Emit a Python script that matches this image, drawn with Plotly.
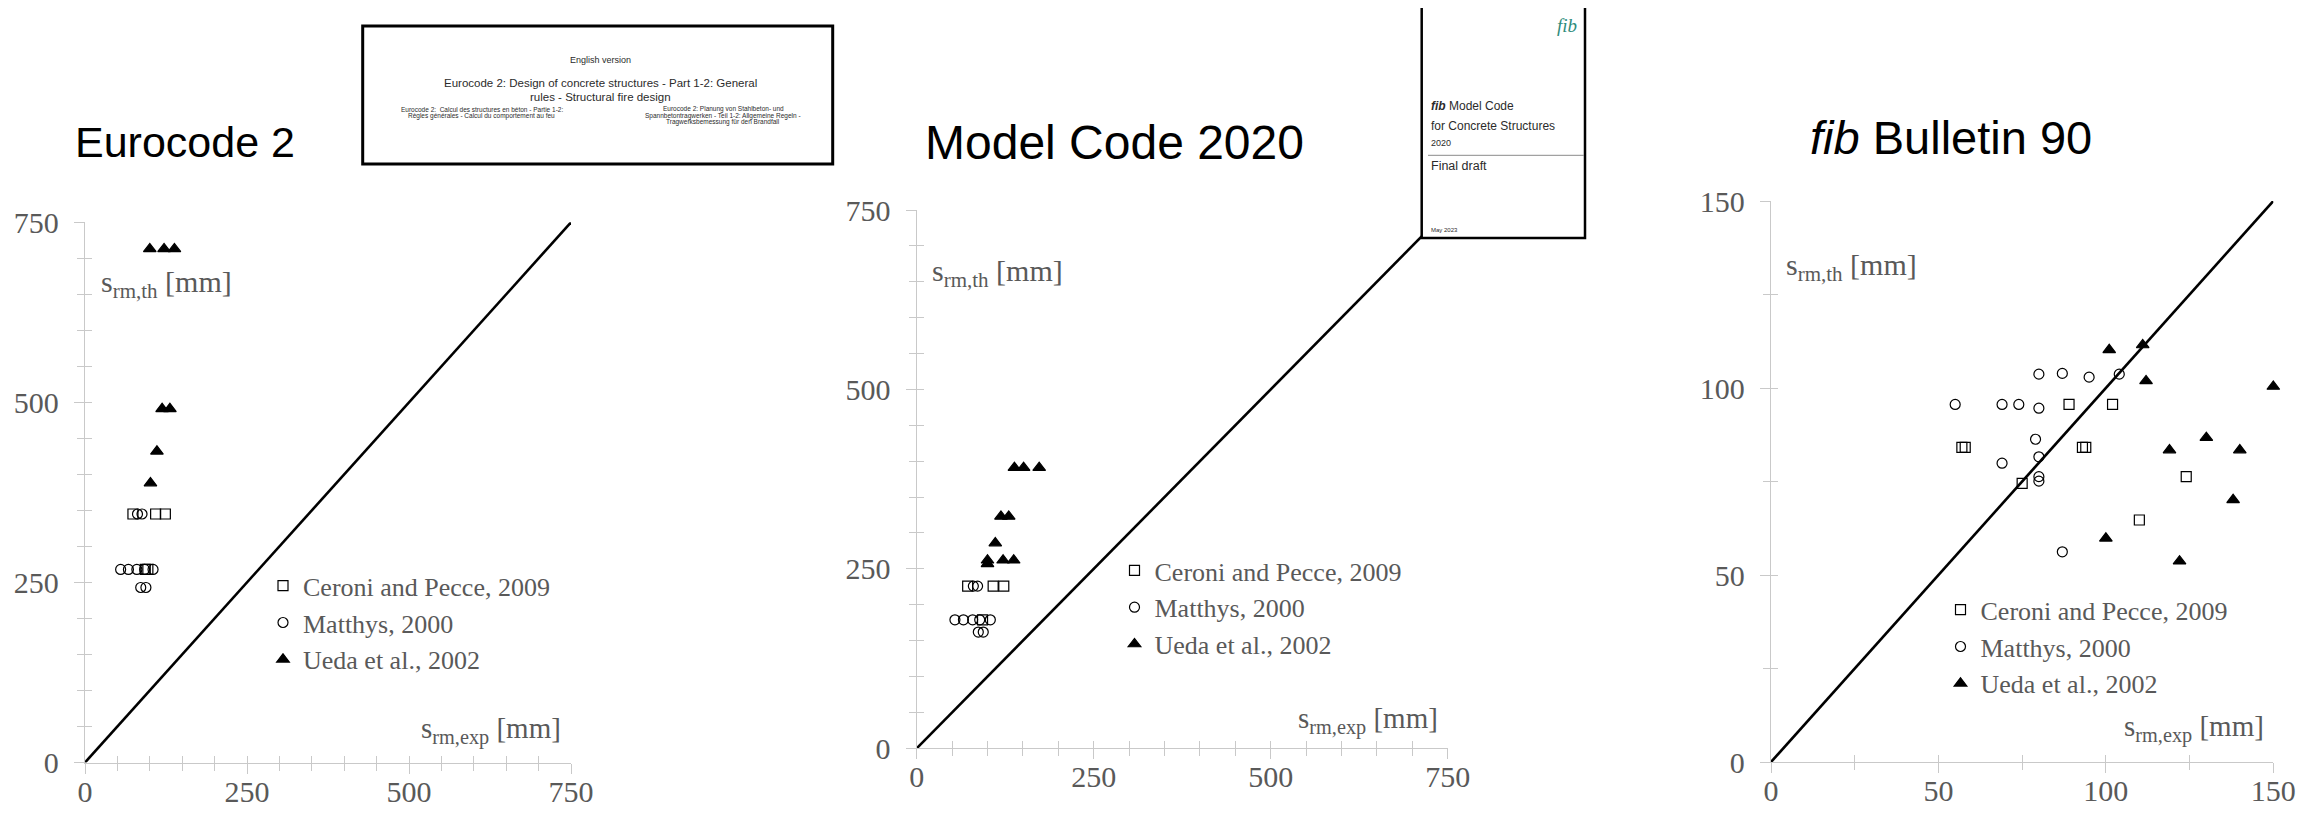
import plotly.graph_objects as go

W, H = 2315, 816          # browser window
OFF = 8                   # default page body margin
FW, FH = W - 2 * OFF, H - 2 * OFF   # figure size that fits the window

# ---------------- data ----------------
series_names = ["Ceroni and Pecce, 2009", "Matthys, 2000", "Ueda et al., 2002"]

# Eurocode 2
ec2_ceroni_x = [74, 109, 124, 93, 97]
ec2_ceroni_y = [345, 345, 345, 268, 268]
ec2_matthys_x = [81, 88, 55, 67, 80, 92, 105, 86, 94]
ec2_matthys_y = [345, 345, 268, 268, 268, 268, 268, 243, 243]
ec2_ueda_x = [100, 122, 138, 119, 131, 111, 101]
ec2_ueda_y = [713, 713, 713, 491, 491, 432, 388]

# Model Code 2020
mc_ceroni_x = [72, 108, 123, 93]
mc_ceroni_y = [226, 226, 226, 179]
mc_matthys_x = [80, 86, 54, 66, 79, 89, 104, 87, 94]
mc_matthys_y = [226, 226, 179, 179, 179, 179, 179, 162, 162]
mc_ueda_x = [138, 151, 173, 119, 130, 111, 100, 122, 137, 100]
mc_ueda_y = [391, 391, 391, 323, 323, 286, 262, 262, 262, 257]

# fib Bulletin 90
fib_ceroni_x = [57, 58, 89, 102, 93, 94, 75, 124, 110]
fib_ceroni_y = [84.1, 84.1, 95.6, 95.6, 84.1, 84.1, 74.5, 76.3, 64.7]
fib_matthys_x = [55, 69, 74, 80, 80, 87, 95, 104, 79, 80, 69, 80, 80, 87]
fib_matthys_y = [95.6, 95.6, 95.6, 94.6, 103.7, 103.9, 102.9, 103.7, 86.3, 81.6, 79.9, 76.3, 75.1, 56.2]
fib_ueda_x = [101, 111, 112, 119, 130, 140, 138, 100, 122, 150]
fib_ueda_y = [110.2, 111.5, 101.9, 83.4, 86.7, 83.4, 70.1, 59.8, 53.7, 100.4]

# reference line y = x (end values per panel)
diag_ec2 = [0, 750]
diag_mc = [0, 750]
diag_fib = [0, 150]

# axis ticks
ticks_750 = [0, 250, 500, 750]
ticks_150 = [0, 50, 100, 150]
minor_750 = 50
minor_150 = 25

panel_titles = ["Eurocode 2", "Model Code 2020", "<i>fib</i> Bulletin 90"]

# ---------------- helpers ----------------
def px(x):
    return (x - OFF) / FW


def py(y):
    return 1 - (y - OFF) / FH


AX_GRAY = "#c9c9c9"
TXT_GRAY = "#595959"
SERIF = "Liberation Serif"
SANS = "Liberation Sans"

panels = [
    dict(x0=85, x1=571, y0=222.3, y1=762.5, rng=750, ticks=ticks_750, minor=minor_750,
         data=[(ec2_ceroni_x, ec2_ceroni_y), (ec2_matthys_x, ec2_matthys_y), (ec2_ueda_x, ec2_ueda_y)],
         diag=diag_ec2, leg=(303, 589.3), th=(98.5, 284), ex=(563, 730.7),
         title=(73, 142), tsize=43),
    dict(x0=916.7, x1=1447.7, y0=210, y1=748.3, rng=750, ticks=ticks_750, minor=minor_750,
         data=[(mc_ceroni_x, mc_ceroni_y), (mc_matthys_x, mc_matthys_y), (mc_ueda_x, mc_ueda_y)],
         diag=diag_mc, leg=(1154.5, 574), th=(930, 273.3), ex=(1440, 720),
         title=(923, 142), tsize=48),
    dict(x0=1771, x1=2273.3, y0=201, y1=762, rng=150, ticks=ticks_150, minor=minor_150,
         data=[(fib_ceroni_x, fib_ceroni_y), (fib_matthys_x, fib_matthys_y), (fib_ueda_x, fib_ueda_y)],
         diag=diag_fib, leg=(1980.5, 613.3), th=(1783.5, 266.7), ex=(2266, 728.3),
         title=(1808, 138), tsize=47),
]

symbols = ["square-open", "circle-open", "triangle-up"]
sizes = [10, 10, 11]

fig = go.Figure()
layout = dict(
    width=FW, height=FH,
    margin=dict(l=0, r=0, t=0, b=0, pad=0, autoexpand=False),
    paper_bgcolor="white", plot_bgcolor="white",
    showlegend=True, annotations=[], shapes=[],
)

for i, p in enumerate(panels):
    n = i + 1
    sfx = "" if n == 1 else str(n)
    ov = str(n + 3)
    legname = "legend" if n == 1 else f"legend{n}"

    # diagonal reference line
    fig.add_trace(go.Scatter(x=p["diag"], y=p["diag"], mode="lines",
                             line=dict(color="black", width=2.6),
                             xaxis="x" + sfx, yaxis="y" + sfx,
                             showlegend=False, hoverinfo="skip"))
    # data series
    for (xs, ys), name, sym, sz in zip(p["data"], series_names, symbols, sizes):
        fig.add_trace(go.Scatter(
            x=xs, y=ys, mode="markers", name=name,
            marker=dict(symbol=sym, size=sz, color="black",
                        line=dict(color="black", width=1.2)),
            xaxis="x" + sfx, yaxis="y" + sfx, legend=legname,
            cliponaxis=False))
    # empty trace for overlay axes (inside half of crossing ticks)
    fig.add_trace(go.Scatter(x=[None], y=[None], xaxis="x" + ov, yaxis="y" + ov,
                             showlegend=False, hoverinfo="skip"))

    tickfont = dict(family=SERIF, size=30, color=TXT_GRAY)
    common = dict(range=[0, p["rng"]], showgrid=False, zeroline=False, automargin=False,
                  showline=True, linecolor=AX_GRAY, linewidth=1.3,
                  tickvals=p["ticks"], ticks="outside", ticklen=10,
                  tickcolor=AX_GRAY, tickwidth=1.3, tickfont=tickfont,
                  minor=dict(dtick=p["minor"], tick0=0, ticks="outside", ticklen=7,
                             tickcolor=AX_GRAY, tickwidth=1.3, showgrid=False),
                  fixedrange=True)
    layout["xaxis" + sfx] = dict(common, domain=[px(p["x0"]), px(p["x1"])],
                                 anchor="y" + sfx, ticklabelstandoff=-8)
    layout["yaxis" + sfx] = dict(common, domain=[py(p["y1"]), py(p["y0"])],
                                 anchor="x" + sfx, ticklabelstandoff=9)
    inside = dict(range=[0, p["rng"]], showgrid=False, zeroline=False, showline=False,
                  automargin=False, tick0=0, dtick=p["minor"], ticks="inside", ticklen=7,
                  tickcolor=AX_GRAY, tickwidth=1.3, showticklabels=False, fixedrange=True)
    layout["xaxis" + ov] = dict(inside, overlaying="x" + sfx, anchor="y" + ov)
    layout["yaxis" + ov] = dict(inside, overlaying="y" + sfx, anchor="x" + ov)

    # legend
    layout[legname] = dict(x=px(p["leg"][0] - 40), y=py(p["leg"][1] - 27),
                           xanchor="left", yanchor="top",
                           bgcolor="rgba(0,0,0,0)", borderwidth=0,
                           font=dict(family=SERIF, size=26, color=TXT_GRAY),
                           tracegroupgap=0)

    # axis titles
    layout["annotations"].append(dict(
        text="s<sub>rm,th</sub> [mm]", xref="paper", yref="paper",
        x=px(p["th"][0]), y=py(p["th"][1]), xanchor="left", yanchor="middle",
        showarrow=False, font=dict(family=SERIF, size=30, color=TXT_GRAY)))
    layout["annotations"].append(dict(
        text="s<sub>rm,exp</sub> [mm]", xref="paper", yref="paper",
        x=px(p["ex"][0]), y=py(p["ex"][1]), xanchor="right", yanchor="middle",
        showarrow=False, font=dict(family=SERIF, size=29, color=TXT_GRAY)))
    # panel title
    layout["annotations"].append(dict(
        text=panel_titles[i], xref="paper", yref="paper",
        x=px(p["title"][0]), y=py(p["title"][1]), xanchor="left", yanchor="middle",
        showarrow=False, font=dict(family=SANS, size=p["tsize"], color="black")))

# ---------------- document thumbnails ----------------
DOC = "#2b2b2b"
layout["shapes"].append(dict(type="rect", xref="paper", yref="paper",
                             x0=px(362.7), x1=px(832.7), y0=py(164), y1=py(26),
                             line=dict(color="black", width=3), fillcolor="white", layer="above"))


def doc_text(text, x, y, size, anchor="center", color=DOC, family=SANS):
    layout["annotations"].append(dict(
        text=text, xref="paper", yref="paper", x=px(x), y=py(y),
        xanchor=anchor, yanchor="middle", showarrow=False,
        font=dict(family=family, size=size, color=color)))


doc_text("English version", 600, 60, 9)
doc_text("Eurocode 2: Design of concrete structures - Part 1-2: General", 600, 82.7, 11.5)
doc_text("rules - Structural fire design", 600, 97.3, 11.5)
doc_text("Eurocode 2:  Calcul des structures en béton - Partie 1-2:", 481.7, 109.3, 6.5)
doc_text("Règles générales - Calcul du comportement au feu", 481.7, 115.5, 6.5)
doc_text("Eurocode 2: Planung von Stahlbeton- und", 723, 109.3, 6.5)
doc_text("Spannbetontragwerken - Teil 1-2: Allgemeine Regeln -", 723, 115.5, 6.5)
doc_text("Tragwerksbemessung für den Brandfall", 723, 121.7, 6.5)

layout["shapes"].append(dict(type="rect", xref="paper", yref="paper",
                             x0=px(1421.7), x1=px(1585), y0=py(238), y1=py(5),
                             line=dict(color="black", width=2.5), fillcolor="white", layer="above"))
layout["shapes"].append(dict(type="line", xref="paper", yref="paper",
                             x0=px(1428), x1=px(1584), y0=py(155.3), y1=py(155.3),
                             line=dict(color="#8a8a8a", width=1), layer="above"))
doc_text("<i>fib</i>", 1579, 25.5, 19, anchor="right", color="#2f8c7c", family=SERIF)
doc_text("<b><i>fib</i></b> Model Code", 1429.3, 106, 12, anchor="left")
doc_text("for Concrete Structures", 1429.3, 126, 12, anchor="left")
doc_text("2020", 1429.3, 142.7, 9, anchor="left")
doc_text("Final draft", 1429.3, 165.7, 12.5, anchor="left")
doc_text("May 2023", 1429.3, 230, 6, anchor="left")

fig.update_layout(**layout)
fig.write_html("out.html")
